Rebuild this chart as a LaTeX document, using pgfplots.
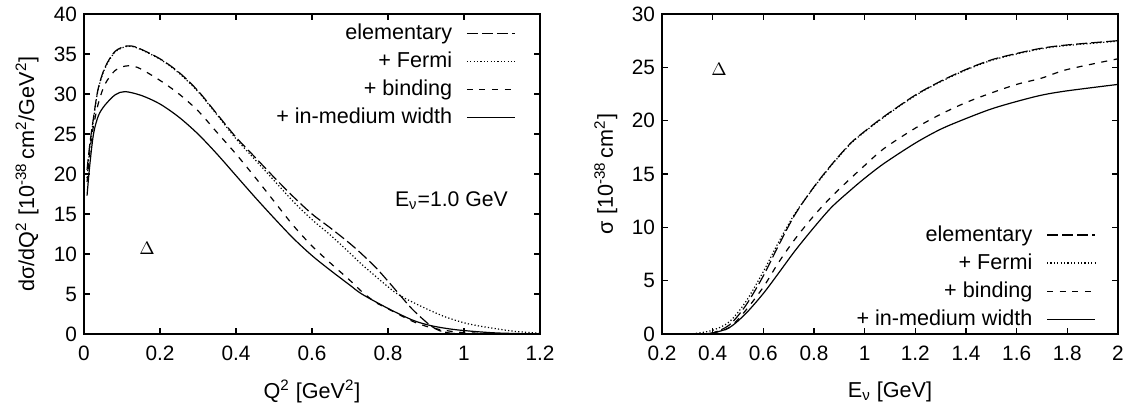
\documentclass[border=0pt]{standalone}
\usepackage{fontspec}
\setmainfont{Liberation Sans}
\usepackage{pgfplots}
\pgfplotsset{compat=1.18}
\begin{document}
\begin{tikzpicture}
\pgfplotsset{
  every axis/.append style={
    scale only axis,
    width=228pt, height=160pt,
    axis line style={line width=0.9pt},
    tick align=inside,
    major tick length=3pt,
    tick style={line width=0.6pt, black},
    /pgf/number format/assume math mode=true,
    tick label style={font=\fontsize{10.4}{12}\selectfont},
    label style={font=\fontsize{10.8}{12}\selectfont},
    xticklabel style={yshift=-2.5pt},
    legend cell align=right,
    legend plot pos=right,
    legend image code/.code={\draw[##1] (0pt,0pt) -- (24pt,0pt);},
    legend style={draw=none, fill=none, font=\fontsize{10.8}{12}\selectfont, row sep=0.7pt, column sep=5pt},
  },
  elem/.style={black, line width=0.6pt, dash pattern=on 5.5pt off 2pt},
  fermi/.style={black, line width=0.6pt, dash pattern=on 0.6pt off 1.1pt},
  bind/.style={black, line width=0.6pt, dash pattern=on 3pt off 3.3pt},
  med/.style={black, line width=0.6pt},
}
\begin{axis}[
  xmin=0, xmax=1.2, ymin=0, ymax=40,
  xtick={0,0.2,...,1.2}, ytick={0,5,...,40},
  xlabel={Q\textsuperscript{2} [GeV\textsuperscript{2}]},
  ylabel={dσ/dQ\textsuperscript{2} [10\textsuperscript{-38}\,cm\textsuperscript{2}/GeV\textsuperscript{2}]},
  xlabel style={at={(axis description cs:0.5,-0.18)}, anchor=center},
  ylabel style={at={(axis description cs:-0.125,0.5)}, anchor=center},
  legend style={at={(axis description cs:0.96,0.995)}, anchor=north east},
]
\addplot[elem, smooth] coordinates {
(0.008,20.5) (0.015,23.6) (0.024,26.7) (0.037,30.6) (0.055,33.3) (0.081,35.3)
(0.112,36.0) (0.14,35.8) (0.2,34.4) (0.25,32.7) (0.3,30.4) (0.35,27.5)
(0.4,24.6) (0.45,22.1) (0.5,19.6) (0.55,17.2) (0.6,15.0) (0.65,13.2)
(0.7,11.3) (0.731,10.0) (0.77,8.2) (0.8,6.6) (0.82,5.5) (0.864,3.1)
(0.908,1.2) (0.935,0.43) (0.96,0.13) (0.99,0.0)
};
\addlegendentry{elementary}
\addplot[fermi, smooth] coordinates {
(0.008,19.5) (0.015,23.1) (0.024,26.5) (0.037,30.5) (0.055,33.2) (0.081,35.2)
(0.112,35.95) (0.14,35.75) (0.2,34.35) (0.25,32.6) (0.3,30.3) (0.35,27.4)
(0.4,24.4) (0.45,21.8) (0.5,19.2) (0.55,16.6) (0.6,14.3) (0.65,12.3)
(0.7,10.1) (0.731,8.7) (0.8,5.9) (0.828,4.9) (0.864,4.0) (0.908,3.0)
(0.953,2.1) (1.0,1.4) (1.04,1.0) (1.086,0.65) (1.13,0.35) (1.19,0.13) (1.2,0.1)
};
\addlegendentry{+ Fermi}
\addplot[bind, smooth] coordinates {
(0.008,19.0) (0.015,22.5) (0.022,25.2) (0.037,28.7) (0.055,31.2) (0.081,32.9)
(0.11,33.5) (0.142,33.3) (0.2,31.7) (0.25,30.0) (0.3,27.9) (0.35,25.2)
(0.4,22.5) (0.45,19.6) (0.5,16.6) (0.55,13.6) (0.6,11.0) (0.65,8.8)
(0.7,6.7) (0.731,5.3) (0.766,4.0) (0.8,3.15) (0.864,1.6) (0.908,0.86)
(0.953,0.43) (1.0,0.17) (1.086,0.05) (1.2,0.0)
};
\addlegendentry{+ binding}
\addplot[med, smooth] coordinates {
(0.008,17.3) (0.015,21.0) (0.025,25.0) (0.038,27.3) (0.055,28.6) (0.082,29.9)
(0.108,30.3) (0.152,29.8) (0.2,28.75) (0.25,27.1) (0.3,25.0) (0.35,22.5)
(0.4,19.8) (0.45,17.1) (0.5,14.5) (0.55,12.0) (0.6,9.8) (0.65,7.9)
(0.7,6.1) (0.731,5.0) (0.8,3.2) (0.864,1.75) (0.908,1.1) (0.953,0.7)
(1.0,0.43) (1.086,0.13) (1.2,0.0)
};
\addlegendentry{+ in-medium width}
\node[anchor=west, font=\fontsize{10.6}{12}\selectfont] at (axis cs:0.8,16.7) {E\textsubscript{ν}=1.0 GeV};
\node[font=\fontsize{9}{10}\selectfont] at (axis cs:0.166,10.7) {$\Delta$};
\end{axis}

\begin{axis}[
  xshift=289pt,
  xmin=0.2, xmax=2, ymin=0, ymax=30,
  xtick={0.2,0.4,...,2.01}, ytick={0,5,...,30},
  xlabel={E\textsubscript{ν} [GeV]},
  ylabel={σ [10\textsuperscript{-38}\,cm\textsuperscript{2}]},
  xlabel style={at={(axis description cs:0.5,-0.18)}, anchor=center},
  ylabel style={at={(axis description cs:-0.123,0.5)}, anchor=center},
  legend style={at={(axis description cs:0.965,-0.009)}, anchor=south east},
]
\addplot[elem, smooth] coordinates {
(0.2,0) (0.3,0) (0.35,0.02) (0.4,0.1) (0.466,0.85) (0.53,2.65) (0.6,5.45)
(0.66,8.3) (0.725,11.2) (0.8,13.8) (0.87,15.9) (0.945,17.9) (1.0,19.0)
(1.077,20.4) (1.2,22.4) (1.3,23.7) (1.4,24.8) (1.5,25.7) (1.6,26.3)
(1.7,26.8) (1.8,27.1) (2.0,27.5)
};
\addlegendentry{elementary}
\addplot[fermi, smooth] coordinates {
(0.2,0) (0.28,0) (0.33,0.05) (0.4,0.35) (0.466,1.15) (0.53,3.0) (0.6,5.85)
(0.66,8.6) (0.725,11.3) (0.8,13.75) (0.87,15.85) (0.945,17.85) (1.0,18.95)
(1.077,20.35) (1.2,22.35) (1.3,23.65) (1.4,24.75) (1.5,25.65) (1.6,26.25)
(1.7,26.75) (1.8,27.05) (2.0,27.45)
};
\addlegendentry{+ Fermi}
\addplot[bind, smooth] coordinates {
(0.2,0) (0.3,0) (0.35,0.0) (0.4,0.1) (0.466,0.6) (0.53,2.2) (0.6,4.4)
(0.66,6.7) (0.725,8.9) (0.8,11.1) (0.87,12.9) (0.945,14.6) (1.0,15.8)
(1.077,17.4) (1.2,19.3) (1.3,20.6) (1.4,21.7) (1.5,22.6) (1.6,23.4)
(1.7,24.0) (1.8,24.8) (2.0,25.8)
};
\addlegendentry{+ binding}
\addplot[med, smooth] coordinates {
(0.2,0) (0.3,0) (0.35,0.0) (0.4,0.1) (0.466,0.6) (0.53,1.9) (0.6,3.8)
(0.66,5.7) (0.725,7.8) (0.8,10.0) (0.87,11.9) (0.945,13.5) (1.0,14.6)
(1.077,16.0) (1.2,17.9) (1.3,19.2) (1.4,20.2) (1.5,21.1) (1.6,21.8)
(1.7,22.4) (1.8,22.8) (2.0,23.4)
};
\addlegendentry{+ in-medium width}
\node[font=\fontsize{9}{10}\selectfont] at (axis cs:0.425,24.8) {$\Delta$};
\end{axis}
\pgfresetboundingbox
\path[use as bounding box] (-42pt,-37pt) rectangle (523pt,167pt);
\end{tikzpicture}
\end{document}
